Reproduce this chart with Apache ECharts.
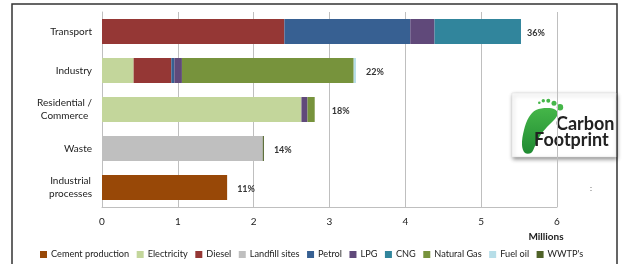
<!DOCTYPE html>
<html>
<head>
<meta charset="utf-8">
<script src="https://cdn.jsdelivr.net/npm/echarts@6/dist/echarts.min.js"></script>
<style>
html,body{margin:0;padding:0;background:#fff;}
#chart{width:622px;height:264px;}
</style>
</head>
<body>
<div id="chart"></div>
<script>
// ---- data (millions) ----
var categories = ['Transport', 'Industry', 'Residential /\nCommerce', 'Waste', 'Industrial\nprocesses'];
var cementProduction = [0, 0, 0, 0, 1.65];
var electricity      = [0, 0.417, 2.63, 0, 0];
var diesel           = [2.405, 0.497, 0, 0, 0];
var landfillSites    = [0, 0, 0, 2.12, 0];
var petrol           = [1.66, 0.04, 0, 0, 0];
var lpg              = [0.32, 0.10, 0.08, 0, 0];
var cng              = [1.14, 0, 0, 0, 0];
var naturalGas       = [0, 2.265, 0.095, 0, 0];
var fuelOil          = [0, 0.03, 0, 0, 0];
var wwtps            = [0, 0, 0, 0.015, 0];
var shares           = ['36%', '22%', '18%', '14%', '11%'];
var xTicks           = [0, 1, 2, 3, 4, 5, 6];

var seriesDefs = [
  ['Cement production', cementProduction, '#984807'],
  ['Electricity', electricity, '#C3D69B'],
  ['Diesel', diesel, '#953735'],
  ['Landfill sites', landfillSites, '#BFBFBF'],
  ['Petrol', petrol, '#376092'],
  ['LPG', lpg, '#60497A'],
  ['CNG', cng, '#31859C'],
  ['Natural Gas', naturalGas, '#77933C'],
  ['Fuel oil', fuelOil, '#B7DEE8'],
  ["WWTP's", wwtps, '#4F6228']
];

var FONT = 'Lato';
var series = seriesDefs.map(function (d) {
  return {
    name: d[0], type: 'bar', stack: 'total', barWidth: '64%',
    data: d[1], itemStyle: { color: d[2] }, emphasis: { disabled: true }
  };
});
var labelGaps = [6, 10, 17, 10, 10];
series.push({
  name: 'share', type: 'bar', stack: 'total', barWidth: '64%',
  data: shares.map(function (s, i) {
    return { value: 0, label: { distance: labelGaps[i] } };
  }),
  itemStyle: { color: 'rgba(0,0,0,0)' },
  label: {
    show: true, position: 'right', offset: [0, 2],
    formatter: function (p) { return shares[p.dataIndex]; },
    color: '#333', fontFamily: FONT, fontSize: 9, fontWeight: 'bold'
  },
  silent: true
});

var green = { type: 'linear', x: 0, y: 0, x2: 0, y2: 1,
  colorStops: [{ offset: 0, color: '#45b649' }, { offset: 1, color: '#1f8a32' }] };

var chart = echarts.init(document.getElementById('chart'), null, { renderer: 'canvas' });
chart.setOption({
  animation: false,
  backgroundColor: '#fff',
  textStyle: { fontFamily: FONT },
  grid: { left: 102, right: 65, top: 12, bottom: 57, containLabel: false },
  xAxis: {
    type: 'value', min: xTicks[0], max: xTicks[xTicks.length - 1], interval: 1,
    axisLine: { show: true, lineStyle: { color: '#BFBFBF' } },
    axisTick: { show: false },
    splitLine: { show: true, lineStyle: { color: '#BFBFBF' } },
    axisLabel: { color: '#222', fontFamily: FONT, fontSize: 10, margin: 10 }
  },
  yAxis: {
    type: 'category', data: categories, inverse: true,
    axisLine: { show: true, lineStyle: { color: '#BFBFBF' } },
    axisTick: { show: false },
    axisLabel: {
      color: '#222', fontFamily: FONT, fontSize: 10, margin: 10, lineHeight: 13,
      formatter: function (v) {
        return v.split('\n').map(function (l) { return '{c|' + l + '}'; }).join('\n');
      },
      rich: { c: { align: 'center', fontFamily: FONT, fontSize: 10, color: '#222', lineHeight: 13 } }
    }
  },
  legend: {
    data: seriesDefs.map(function (d) { return d[0]; }),
    left: 35, right: 0, top: 245, itemWidth: 7, itemHeight: 7, itemGap: 7.5, icon: 'rect',
    textStyle: { color: '#222', fontFamily: FONT, fontSize: 9.2, padding: [0, 0, 0, -1] },
    selectedMode: false
  },
  series: series,
  graphic: [
    { type: 'rect', shape: { x: 12, y: 4, width: 605, height: 280 },
      style: { fill: 'none', stroke: '#333', lineWidth: 1.5 }, silent: true },
    { type: 'text', x: 546, y: 237,
      style: { text: 'Millions', fontFamily: FONT, fontSize: 10, fontWeight: 'bold', fill: '#222',
               textAlign: 'center', textVerticalAlign: 'middle' } },
    { type: 'text', x: 591, y: 188,
      style: { text: ':', fontFamily: FONT, fontSize: 8, fill: '#555', textAlign: 'center', textVerticalAlign: 'middle' } },
    { type: 'rect', shape: { x: 512, y: 93, width: 104, height: 64 },
      style: { fill: '#fff', stroke: '#ddd', lineWidth: 0.5, shadowBlur: 4, shadowColor: 'rgba(0,0,0,0.45)', shadowOffsetX: 1, shadowOffsetY: 2 } },
    { type: 'polygon', shape: { smooth: 0.35, points: [[536, 110], [547, 108], [555, 109.5], [558, 113.5], [554, 120], [547, 127], [540, 136], [535, 146], [531, 153], [525, 153], [522, 145], [524, 130], [529, 117]] },
      style: { fill: green } },
    { type: 'circle', shape: { cx: 539.3, cy: 102.7, r: 1.3 }, style: { fill: '#45b649' } },
    { type: 'circle', shape: { cx: 543.3, cy: 100.7, r: 1.7 }, style: { fill: '#45b649' } },
    { type: 'circle', shape: { cx: 548.3, cy: 100.7, r: 2 }, style: { fill: '#45b649' } },
    { type: 'circle', shape: { cx: 554, cy: 103.3, r: 2.5 }, style: { fill: '#45b649' } },
    { type: 'circle', shape: { cx: 560, cy: 107.3, r: 3.2 }, style: { fill: '#45b649' } },
    { type: 'text', x: 556, y: 124,
      style: { text: 'Carbon', fontFamily: FONT, fontSize: 18, fontWeight: 'bold', fill: '#222', textAlign: 'left', textVerticalAlign: 'middle' } },
    { type: 'text', x: 534, y: 140,
      style: { text: 'Footprint', fontFamily: FONT, fontSize: 18, fontWeight: 'bold', fill: '#222', textAlign: 'left', textVerticalAlign: 'middle' } }
  ]
});
</script>
</body>
</html>
